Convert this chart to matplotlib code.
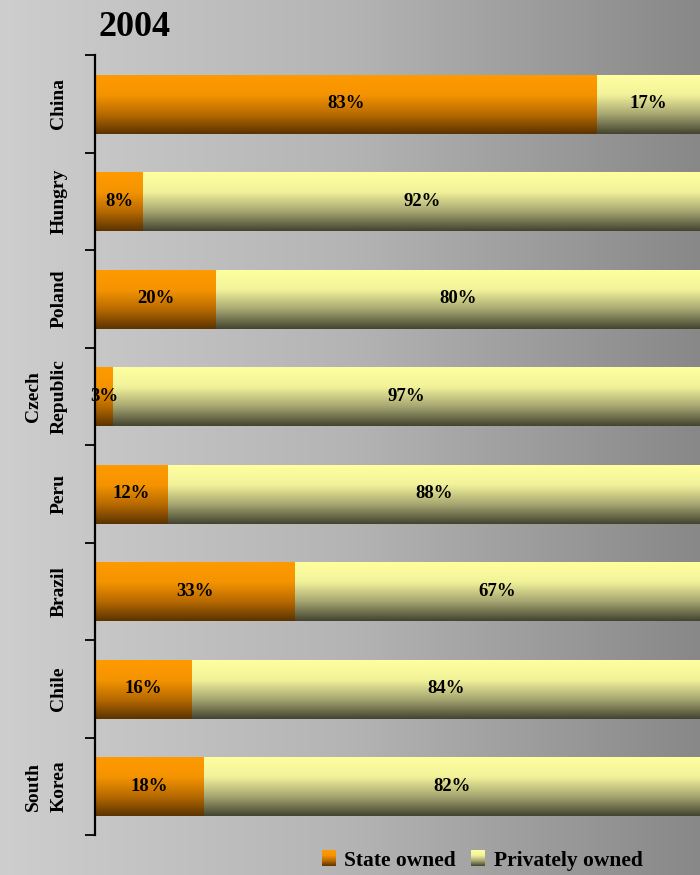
import numpy as np
import matplotlib
matplotlib.use('Agg')
import matplotlib.pyplot as plt
from matplotlib.colors import LinearSegmentedColormap
from matplotlib.legend_handler import HandlerBase
from matplotlib.image import BboxImage
from matplotlib.transforms import Bbox, TransformedBbox
from matplotlib.patches import Patch

plt.rcParams['font.family'] = ['Liberation Serif', 'DejaVu Serif']
plt.rcParams['font.weight'] = 'bold'

# data
countries = ['China', 'Hungry', 'Poland', 'Czech\nRepublic', 'Peru', 'Brazil', 'Chile', 'South\nKorea']
state_owned = [83, 8, 20, 3, 12, 33, 16, 18]
private_owned = [17, 92, 80, 97, 88, 67, 84, 82]
series_names = ['State owned', 'Privately owned']

# gradients (top -> bottom)
cm_state = LinearSegmentedColormap.from_list('state', ['#FF9A00', '#F59400', '#B86A00', '#5A3300'])
cm_priv = LinearSegmentedColormap.from_list('priv', ['#FFFFA0', '#F2F29A', '#A6A672', '#434330'])
grad = np.linspace(0, 1, 256).reshape(-1, 1)

fig = plt.figure(figsize=(7, 8.75), dpi=100)

# background gradient
bg = fig.add_axes([0, 0, 1, 1], zorder=-10)
bg_cm = LinearSegmentedColormap.from_list('bg', ['#CECECE', '#B4B4B4', '#888888'])
bg.imshow(np.linspace(0, 1, 256).reshape(1, -1), cmap=bg_cm, aspect='auto', extent=[0, 1, 0, 1])
bg.axis('off')

ax = fig.add_axes([95 / 700, 1 - 835 / 875, 605 / 700, 780 / 875])
ax.patch.set_alpha(0)

h = 0.6
for i, (s, p) in enumerate(zip(state_owned, private_owned)):
    ax.imshow(grad, cmap=cm_state, aspect='auto', interpolation='bicubic',
              extent=(0, s, i + h / 2 + 0.01, i - h / 2 + 0.01))
    ax.imshow(grad, cmap=cm_priv, aspect='auto', interpolation='bicubic',
              extent=(s, s + p, i + h / 2 + 0.01, i - h / 2 + 0.01))
    ax.text(s / 2, i, f'{s}%', ha='center', va='center', fontsize=13.5, fontweight='bold')
    ax.text(s + p / 2, i, f'{p}%', ha='center', va='center', fontsize=13.5, fontweight='bold')

ax.set_xlim(0, 100)
ax.set_ylim(len(countries) - 0.5, -0.5)

for sp in ['top', 'right', 'bottom']:
    ax.spines[sp].set_visible(False)
ax.spines['left'].set_linewidth(1.6)
ax.set_xticks([])
ax.set_yticks(range(len(countries)))
ax.set_yticklabels(countries, rotation=90, va='center', ha='right',
                   multialignment='center', fontsize=14, fontweight='bold',
                   linespacing=1.6)
ax.set_yticks(np.arange(-0.5, len(countries), 1), minor=True)
ax.tick_params(axis='y', which='major', length=0, pad=20)
ax.tick_params(axis='y', which='minor', length=7, width=1.3, direction='out')

fig.text(99 / 700, 1 - 36 / 875, '2004', fontsize=26, fontweight='bold',
         ha='left', va='baseline')


class GradHandler(HandlerBase):
    def __init__(self, cmap):
        super().__init__()
        self.cmap = cmap

    def create_artists(self, legend, orig_handle, xdescent, ydescent, width, height, fontsize, trans):
        bb = TransformedBbox(Bbox.from_bounds(-xdescent, -ydescent, width, height), trans)
        img = BboxImage(bb, cmap=self.cmap, interpolation='bicubic')
        img.set_data(grad)
        return [img]


h1 = Patch(label=series_names[0])
h2 = Patch(label=series_names[1])
fig.legend([h1, h2], series_names, loc='center', bbox_to_anchor=(482 / 700, 1 - 861 / 875),
           ncol=2, frameon=False, handlelength=0.65, handleheight=0.7,
           handletextpad=0.4, columnspacing=0.7,
           handler_map={h1: GradHandler(cm_state), h2: GradHandler(cm_priv)},
           prop={'weight': 'bold', 'size': 15.5})

fig.savefig('out.png', dpi=100)
